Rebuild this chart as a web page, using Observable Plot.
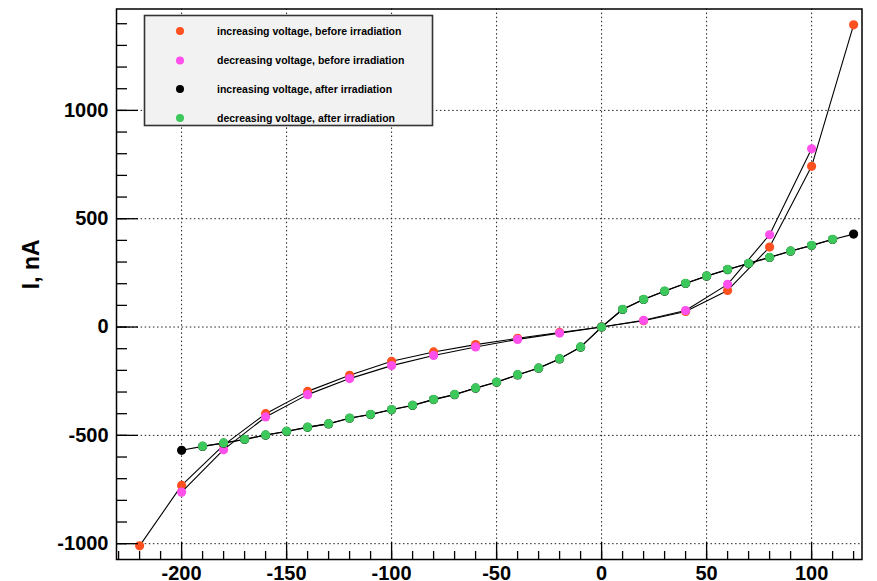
<!DOCTYPE html>
<html>
<head>
<meta charset="utf-8">
<script src="https://cdn.jsdelivr.net/npm/d3@7"></script>
<script src="https://cdn.jsdelivr.net/npm/@observablehq/plot@0.6"></script>
<style>
  body { margin: 0; background: #fff; }
  #chart { position: relative; width: 877px; height: 581px; overflow: hidden; }
</style>
</head>
<body>
<div id="chart"></div>
<script>
// ---- data (voltage V, current nA) ----
const seriesNames = [
  "increasing voltage, before irradiation",
  "decreasing voltage, before irradiation",
  "increasing voltage, after irradiation",
  "decreasing voltage, after irradiation"
];
const seriesColors = ["#ff5020", "#ff50ec", "#000000", "#3cc85a"];

const vIncBefore = [-220, -200, -180, -160, -140, -120, -100, -80, -60, -40, -20, 0, 20, 40, 60, 80, 100, 120];
const iIncBefore = [-1010, -731, -545, -400, -297, -223, -158, -115, -81, -52, -25, 0, 29, 72, 169, 369, 742, 1395];

const vDecBefore = [100, 80, 60, 40, 20, 0, -20, -40, -60, -80, -100, -120, -140, -160, -180, -200];
const iDecBefore = [823, 426, 197, 76, 31, 0, -28, -57, -92, -131, -178, -238, -312, -415, -566, -762];

const vIncAfter = [-200, -190, -180, -170, -160, -150, -140, -130, -120, -110, -100, -90, -80, -70, -60, -50, -40, -30, -20, -10, 0, 10, 20, 30, 40, 50, 60, 70, 80, 90, 100, 110, 120];
const iIncAfter = [-569, -551, -536, -519, -499, -482, -463, -447, -421, -404, -382, -362, -335, -312, -282, -255, -221, -190, -147, -93, 0, 81, 127, 165, 201, 235, 265, 293, 321, 350, 376, 404, 429];

const vDecAfter = [110, 100, 90, 80, 70, 60, 50, 40, 30, 20, 10, 0, -10, -20, -30, -40, -50, -60, -70, -80, -90, -100, -110, -120, -130, -140, -150, -160, -170, -180, -190];
const iDecAfter = [405, 377, 351, 322, 294, 266, 236, 202, 166, 128, 82, 0, -92, -146, -189, -220, -254, -281, -311, -334, -361, -381, -403, -420, -446, -462, -481, -498, -518, -535, -550];

const xMajorTicks = [-200, -150, -100, -50, 0, 50, 100];
const xMinorTicks = d3.range(-230, 121, 10);
const yMajorTicks = [-1000, -500, 0, 500, 1000];
const yMinorTicks = d3.range(-1000, 1401, 100);
const xDomain = [-231, 124];
const yDomain = [-1073, 1468];
const yLabel = "I, nA";

// ---- build tables ----
const series = [
  [vIncBefore, iIncBefore],
  [vDecBefore, iDecBefore],
  [vIncAfter, iIncAfter],
  [vDecAfter, iDecAfter]
].map(([vs, is], k) => vs.map((v, j) => ({v, i: is[j], s: seriesNames[k], c: seriesColors[k]})));

const font = "'Liberation Sans', Arial, Helvetica, sans-serif";
const gridStyle = {stroke: "#222", strokeOpacity: 1, strokeWidth: 1, strokeDasharray: "1.5,2.6"};

const dataMarks = [];
series.forEach((rows, k) => {
  dataMarks.push(Plot.line(rows, {x: "v", y: "i", stroke: "#000", strokeWidth: 1.1}));
  dataMarks.push(Plot.dot(rows, {x: "v", y: "i", r: 4.6, fill: seriesColors[k], stroke: "none"}));
});

const chart = Plot.plot({
  width: 877,
  height: 581,
  marginTop: 8.5,
  marginRight: 15.5,
  marginBottom: 22,
  marginLeft: 116,
  style: {fontFamily: font, background: "#fff", color: "#000"},
  x: {domain: xDomain},
  y: {domain: yDomain},
  marks: [
    Plot.gridX(xMajorTicks, gridStyle),
    Plot.gridY(yMajorTicks, gridStyle),
    ...dataMarks,
    // inward ticks
    Plot.axisY(yMinorTicks, {anchor: "left", tickSize: -11, fill: "none", label: null, strokeWidth: 1.3}),
    Plot.axisY(yMajorTicks, {anchor: "left", tickSize: -22, fill: "none", label: null, strokeWidth: 1.3}),
    Plot.axisX(xMinorTicks, {anchor: "bottom", tickSize: -8, fill: "none", label: null, strokeWidth: 1.3}),
    Plot.axisX(xMajorTicks, {anchor: "bottom", tickSize: -17, fill: "none", label: null, strokeWidth: 1.3}),
    // tick labels
    Plot.axisY(yMajorTicks, {anchor: "left", tickSize: 0, tickPadding: 8, label: null, fontSize: 20, fontWeight: "bold", tickFormat: d => String(d)}),
    Plot.axisX(xMajorTicks, {anchor: "bottom", tickSize: 0, tickPadding: 6, label: null, fontSize: 20, fontWeight: "bold", tickFormat: d => String(d)}),
    Plot.frame({stroke: "#000", strokeWidth: 1.5}),
    Plot.text([yLabel], {frameAnchor: "left", rotate: -90, dx: -85, dy: 5, fontSize: 23, fontWeight: "bold", text: d => d})
  ]
});
document.getElementById("chart").append(chart);

// ---- legend (ROOT style box) ----
const svg = d3.select(chart);
const lg = svg.append("g").attr("font-family", font).attr("text-anchor", "start");
lg.append("rect")
  .attr("x", 144.5).attr("y", 15.5).attr("width", 288).attr("height", 110)
  .attr("fill", "#f2f2f2").attr("stroke", "#333").attr("stroke-width", 1.6);
const rowY = [31, 60.5, 89, 118];
seriesNames.forEach((name, k) => {
  lg.append("circle").attr("cx", 180).attr("cy", rowY[k]).attr("r", 4).attr("fill", seriesColors[k]);
  lg.append("text").attr("x", 217).attr("y", rowY[k]).attr("dy", "0.35em")
    .attr("text-anchor", "start")
    .attr("font-size", 10.5).attr("font-weight", "bold").attr("fill", "#000").text(name);
});
</script>
</body>
</html>
